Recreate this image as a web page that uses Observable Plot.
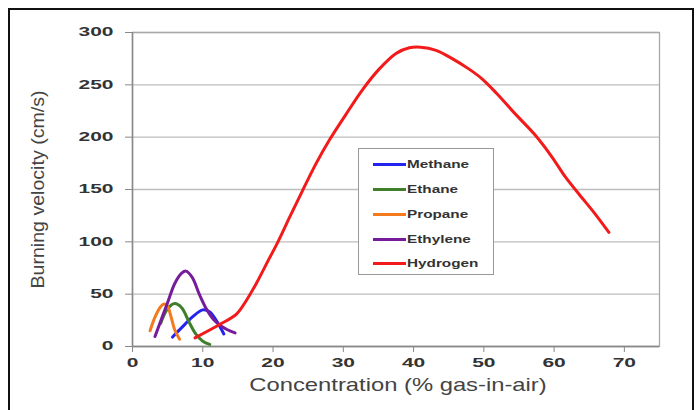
<!DOCTYPE html>
<html><head><meta charset="utf-8">
<script src="https://cdn.jsdelivr.net/npm/d3@7"></script>
<script src="https://cdn.jsdelivr.net/npm/@observablehq/plot@0.6"></script>
<style>
body{margin:0;background:#fff;font-family:"Liberation Sans",Arial,sans-serif;}
#wrap{position:relative;width:699px;height:410px;overflow:hidden;}
#border{position:absolute;left:8px;top:8px;width:686px;height:420px;border:2px solid #111;box-sizing:border-box;}
#legend{position:absolute;left:358px;top:148px;width:136px;height:127px;border:1px solid #999;background:#fff;box-sizing:border-box;}
.li{position:absolute;left:14px;height:14px;display:flex;align-items:center;}
.li span.sw{display:inline-block;width:33px;height:3px;margin-right:1px;}
.li span.tx{display:inline-block;font-size:11.5px;font-weight:bold;color:#333;transform:scaleX(1.33);transform-origin:left center;}
</style></head>
<body><div id="wrap"><div id="border"></div><div id="chart"></div><div id="legend"></div></div>
<script>
const seriesNames = ["Methane","Ethane","Propane","Ethylene","Hydrogen"];
const seriesColors = ["#2424f0","#3f7f2a","#f47a20","#761c9a","#f21a1a"];
const methaneX = [5.7,7,8.5,10,11,12,13];
const methaneY = [9,18,28,35,33,24,12];
const ethaneX = [4,5,6,7,8,9,10,11];
const ethaneY = [22,36,41,37,24,12,5,2];
const propaneX = [2.5,3.2,4,4.5,5,5.5,6,6.7];
const propaneY = [15,28,38,40.5,38,28,16,7];
const ethyleneX = [3.2,4,5,6,7,7.6,8.5,9.5,10.5,11.5,12.5,13.5,14.6];
const ethyleneY = [9.5,24,42,60,70,72,66,50,36,26,20,16,13];
const hydrogenX = [8.9,12.4,14.8,16.2,17.6,19.3,20.7,22.4,24.2,26.1,28,30.4,32.7,35.1,37.5,39.4,41,43.2,45.5,47.9,49.7,51.8,54.5,57.3,59.7,61.6,63.5,65.8,67.8];
const hydrogenY = [8.3,21,31,44,60,82,100,124,149,174.5,197,222,245,265,280,285.4,286,283,275,265,256,242,222,202,181,162,146,127,109];
const xTicks = [0,10,20,30,40,50,60,70];
const yTicks = [0,50,100,150,200,250,300];
const yTitle = "Burning velocity (cm/s)";
const xTitle = "Concentration (% gas-in-air)";

const allX = [methaneX,ethaneX,propaneX,ethyleneX,hydrogenX];
const allY = [methaneY,ethaneY,propaneY,ethyleneY,hydrogenY];
const data = [];
seriesNames.forEach((n,i)=>allX[i].forEach((x,j)=>data.push({name:n,x,y:allY[i][j]})));

const chart = Plot.plot({
  width:699, height:410,
  marginLeft:132, marginRight:40, marginTop:32, marginBottom:64,
  style:{fontFamily:"Liberation Sans, Arial, sans-serif", background:"transparent"},
  x:{domain:[0,75], ticks:xTicks},
  y:{domain:[0,300], ticks:yTicks},
  color:{domain:seriesNames, range:seriesColors},
  marks:[
    Plot.gridY(yTicks,{stroke:"#bdbdbd",strokeOpacity:1,strokeWidth:1.3}),
    Plot.frame({stroke:"#a8a8a8",strokeWidth:1.3}),
    Plot.ruleX([0],{stroke:"#888",strokeWidth:1.5}),
    Plot.ruleY([0],{stroke:"#888",strokeWidth:1.5}),
    Plot.axisY(yTicks,{tickSize:7,tickPadding:12,fontSize:12,fontWeight:"bold",fill:"#333",stroke:"#888",label:null}),
    Plot.axisX(xTicks,{tickSize:6,tickPadding:6,fontSize:12,fontWeight:"bold",fill:"#333",stroke:"#888",label:null}),
    Plot.line(data,{x:"x",y:"y",z:"name",stroke:"name",strokeWidth:3,curve:"catmull-rom"}),
    Plot.text([yTitle],{frameAnchor:"left",textAnchor:"middle",dx:-94,rotate:-90,fontSize:17.5,fill:"#444"}),
    Plot.text([xTitle],{frameAnchor:"bottom",dy:44,dx:2,fontSize:17.5,fill:"#444"})
  ]
});
document.getElementById("chart").appendChild(chart);

function stretchEl(el, s){
  const t = el.getAttribute("transform")||"";
  const x = +el.getAttribute("x")||0, y = +el.getAttribute("y")||0;
  el.setAttribute("transform", `${t} translate(${x},${y}) scale(${s},1) translate(${-x},${-y})`);
}
const tickSet = new Set([...xTicks,...yTicks].map(String));
d3.select(chart).selectAll("text").each(function(){
  const c = this.textContent.trim();
  if (c === xTitle) stretchEl(this, 1.36);
  else if (c === yTitle) stretchEl(this, 1.12);
  else if (tickSet.has(c)) stretchEl(this, 1.75);
});

const leg = document.getElementById("legend");
const rowY = [163,188,213,238,262];
seriesNames.forEach((n,i)=>{
  const d = document.createElement("div");
  d.className="li";
  d.style.top = (rowY[i]-148-7)+"px";
  d.innerHTML = `<span class="sw" style="background:${seriesColors[i]}"></span><span class="tx">${n}</span>`;
  leg.appendChild(d);
});
</script></body></html>
